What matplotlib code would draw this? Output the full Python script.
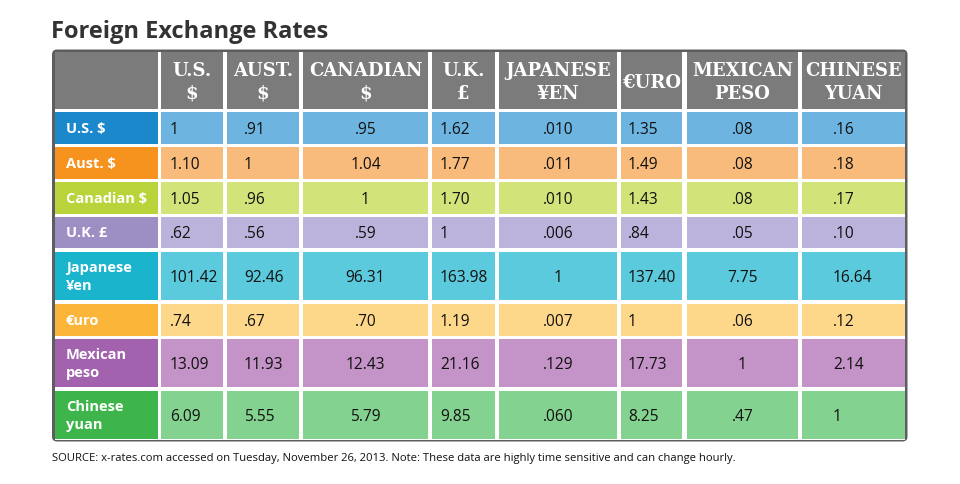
import matplotlib
matplotlib.use("Agg")
import matplotlib.pyplot as plt
from matplotlib.patches import Rectangle, FancyBboxPatch

# ---- data ----
col_headers = ["U.S.\n$", "AUST.\n$", "CANADIAN\n$", "U.K.\n£", "JAPANESE\n¥EN",
               "€URO", "MEXICAN\nPESO", "CHINESE\nYUAN"]
row_labels = ["U.S. $", "Aust. $", "Canadian $", "U.K. £", "Japanese\n¥en",
              "€uro", "Mexican\npeso", "Chinese\nyuan"]
values = [
    ["1", ".91", ".95", "1.62", ".010", "1.35", ".08", ".16"],
    ["1.10", "1", "1.04", "1.77", ".011", "1.49", ".08", ".18"],
    ["1.05", ".96", "1", "1.70", ".010", "1.43", ".08", ".17"],
    [".62", ".56", ".59", "1", ".006", ".84", ".05", ".10"],
    ["101.42", "92.46", "96.31", "163.98", "1", "137.40", "7.75", "16.64"],
    [".74", ".67", ".70", "1.19", ".007", "1", ".06", ".12"],
    ["13.09", "11.93", "12.43", "21.16", ".129", "17.73", "1", "2.14"],
    ["6.09", "5.55", "5.79", "9.85", ".060", "8.25", ".47", "1"],
]
label_colors = ["#1b88cc", "#f6921e", "#b8d43a", "#9d8fc4",
                "#1ab4cd", "#fbb63a", "#a262ae", "#3db54a"]
cell_colors = ["#6db4e0", "#f9bb7c", "#d2e37a", "#bcb3dc",
               "#5bcadc", "#fed88a", "#c493c7", "#84d28f"]
title = "Foreign Exchange Rates"
source = ("SOURCE: x-rates.com accessed on Tuesday, November 26, 2013. "
          "Note: These data are highly time sensitive and can change hourly.")

# ---- layout (pixels) ----
col_edges = [(55, 158), (161, 223), (227, 299), (303, 428), (432, 495),
             (499, 617), (621, 682), (687, 798), (802, 905)]
row_edges = [(53, 110), (113, 145), (148, 180), (183, 215), (218, 249),
             (253, 301), (305, 337), (340, 388), (392, 440)]
# alignment of numbers per column: (ha, offset from left or center)
col_align = [("left", 9), ("left", 17), ("center", 0), ("left", 8),
             ("center", 0), ("left", 7), ("center", 0), ("left", 31)]

body_font = ["Open Sans", "DejaVu Sans"]
head_font = ["DejaVu Serif"]

fig = plt.figure(figsize=(9.6, 4.85), dpi=100)
ax = fig.add_axes([0, 0, 1, 1])
ax.set_xlim(0, 960)
ax.set_ylim(485, 0)
ax.axis("off")

# outer frame
frame = FancyBboxPatch((52, 50.5), 855.5, 392, boxstyle="round,pad=0,rounding_size=5",
                       facecolor="#5e5e5e", edgecolor="none")
ax.add_patch(frame)
ax.add_patch(Rectangle((55, 53), 850, 387.5, facecolor="white", edgecolor="none"))

# header row
y0, y1 = row_edges[0]
for j, (x0, x1) in enumerate(col_edges):
    ax.add_patch(Rectangle((x0, y0), x1 - x0, y1 - y0, facecolor="#7b7b7b", edgecolor="none"))
    if j > 0:
        ax.text((x0 + x1) / 2, (y0 + y1) / 2 + 1, col_headers[j - 1], ha="center", va="center",
                color="white", fontsize=13, fontweight="bold", family=head_font,
                linespacing=1.3)

# body rows
for i in range(len(row_labels)):
    y0, y1 = row_edges[i + 1]
    yc = (y0 + y1) / 2
    x0, x1 = col_edges[0]
    ax.add_patch(Rectangle((x0, y0), x1 - x0, y1 - y0, facecolor=label_colors[i], edgecolor="none"))
    ax.text(x0 + 11, yc, row_labels[i], ha="left", va="center", color="white",
            fontsize=10.5, fontweight="bold", family=body_font, linespacing=1.35)
    for j in range(len(col_headers)):
        x0, x1 = col_edges[j + 1]
        ax.add_patch(Rectangle((x0, y0), x1 - x0, y1 - y0, facecolor=cell_colors[i], edgecolor="none"))
        ha, off = col_align[j]
        tx = x0 + off if ha == "left" else (x0 + x1) / 2
        ax.text(tx, yc + 1, values[i][j], ha=ha, va="center", color="#111111",
                fontsize=11.2, family=body_font)

ax.text(51, 32, title, ha="left", va="center", color="#333333", fontsize=17,
        fontweight="bold", family=body_font)
ax.text(52, 459, source, ha="left", va="center", color="#111111", fontsize=8.1,
        family=body_font)

fig.savefig("out.png", dpi=100)
